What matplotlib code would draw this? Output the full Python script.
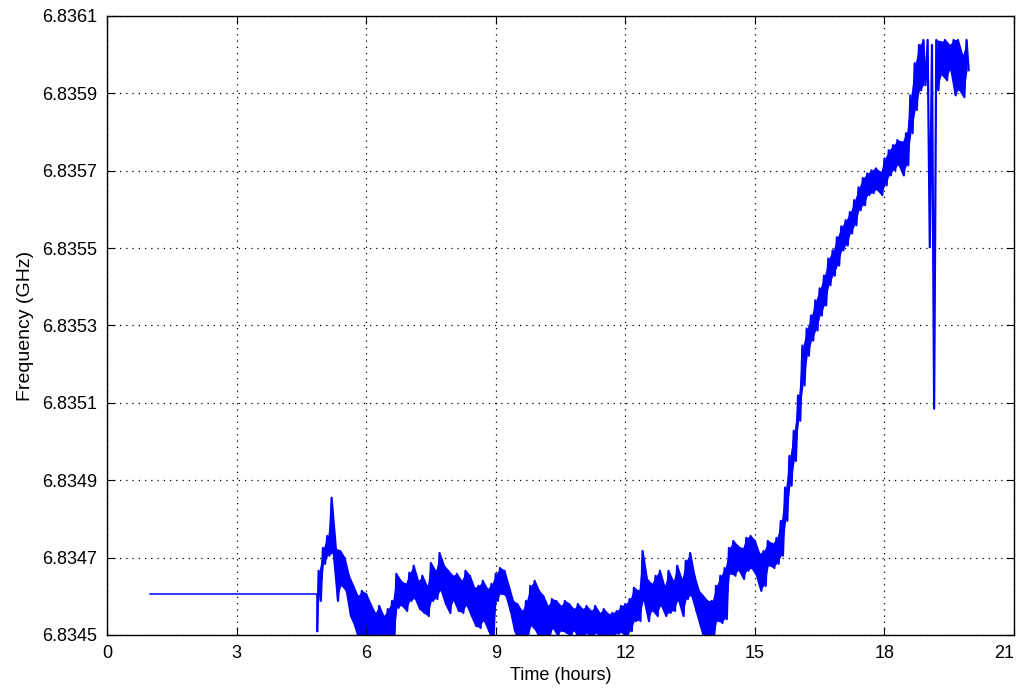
import numpy as np
import matplotlib.pyplot as plt

plt.rcParams['font.family'] = ['Liberation Sans', 'DejaVu Sans']

# frequency is stored as offset (kHz) above 6.8345 GHz
f_base = 6.8345

# flat part before the lock, then the step down at ~4.87 h
t_start = [1.0, 4.87, 4.87]
k_start = [106, 106, 10]

# noisy trace, read as upper / lower excursions every 0.1 h
t_env = np.round(np.arange(4.9, 19.95, 0.1), 2)
k_hi = [166, 225, 256, 355, 223, 217, 199, 153, 127, 101,
        114, 106, 80, 57, 75, 49, 67, 88, 158, 140,
        132, 161, 179, 140, 153, 127, 186, 166, 212, 179,
        166, 153, 158, 140, 166, 153, 122, 127, 140, 119,
        132, 158, 173, 166, 127, 88, 80, 62, 88, 127,
        140, 114, 101, 75, 93, 88, 75, 88, 80, 67,
        80, 67, 75, 62, 75, 57, 67, 54, 57, 62,
        75, 80, 93, 122, 114, 217, 145, 132, 153, 166,
        127, 166, 140, 179, 145, 192, 212, 153, 114, 101,
        88, 88, 127, 153, 173, 225, 243, 230, 223, 251,
        256, 243, 210, 217, 243, 236, 251, 295, 381, 463,
        528, 619, 748, 792, 826, 865, 896, 929, 973, 994,
        1028, 1056, 1072, 1093, 1124, 1157, 1181, 1193, 1201, 1206,
        1196, 1232, 1253, 1266, 1279, 1274, 1297, 1395, 1478, 1525,
        1538, 1538, 1525, 1538, 1533, 1538, 1525, 1538, 1538, 1499,
        1538]
k_lo = [88, 184, 205, 210, 88, 127, 114, 49, 23, -16,
        -28, -16, -28, -41, -28, -41, -28, -28, 70, 75,
        62, 88, 93, 67, 57, 49, 88, 93, 114, 80,
        57, 88, 62, 57, 75, 49, 23, 18, 36, 10,
        -16, 88, 106, 101, 62, 10, -16, -28, -16, 23,
        10, -16, -28, -16, 16, -3, 10, 5, -3, 10,
        -16, -3, 3, -16, 5, -8, -3, -16, -3, 3,
        5, -10, 10, 36, 36, 88, 36, 62, 49, 75,
        49, 57, 62, 88, 49, 93, 101, 62, 23, -16,
        -41, -28, 36, 31, 41, 158, 153, 166, 145, 166,
        171, 153, 114, 127, 179, 173, 184, 205, 295, 386,
        450, 554, 645, 722, 761, 787, 826, 852, 904, 929,
        955, 994, 1007, 1038, 1059, 1098, 1111, 1137, 1142, 1150,
        1137, 1162, 1188, 1201, 1214, 1188, 1214, 1297, 1357, 1408,
        1421, 1002, 585, 1408, 1447, 1434, 1460, 1395, 1408, 1390,
        1460]

t = [t_start[-1]]
k = [k_start[-1]]
for ti, hi, lo in zip(t_env, k_hi, k_lo):
    t += [ti, ti + 0.05]
    k += [hi, lo]
freq = f_base + np.array(k) * 1e-6
freq_start = f_base + np.array(k_start) * 1e-6
f_hi = f_base + np.array(k_hi) * 1e-6
f_lo = f_base + np.array(k_lo) * 1e-6

fig = plt.figure(figsize=(10.18, 6.89), dpi=100)
ax = fig.add_axes([0.1051, 0.0784, 0.8910, 0.8984])
blue = (0, 0, 1)
ax.plot(t_start, freq_start, color=blue, lw=1.1)
# dense band of the noise (leave the dropout near 19 h to the line itself)
keep = (t_env < 18.95) | (t_env > 19.15)
ax.fill_between(t_env + 0.025, f_hi, f_lo, where=keep, color=blue, lw=0)
ax.plot(t, freq, color=blue, lw=1.6)

ax.set_xlim(0, 21)
ax.set_ylim(6.8345, 6.8361)
ax.set_xticks(np.arange(0, 22, 3))
ax.set_yticks(np.arange(6.8345, 6.83611, 0.0002))
ax.yaxis.set_major_formatter(plt.FormatStrFormatter('%.4f'))
ax.tick_params(direction='in', length=6, top=True, right=True, labelsize=13, pad=7)
ax.grid(True, color='k', linestyle=(0, (1, 4)), lw=0.9)
for s in ax.spines.values():
    s.set_linewidth(1.0)

# last x label sits flush with the right spine, like the original export
fig.canvas.draw()
ax.xaxis.get_major_ticks()[-1].label1.set_horizontalalignment('right')

ax.set_xlabel('Time (hours)', fontsize=13, labelpad=4)
ax.set_ylabel('Frequency (GHz)', fontsize=14, labelpad=6)

plt.savefig('out.png', dpi=100)
plt.close()
